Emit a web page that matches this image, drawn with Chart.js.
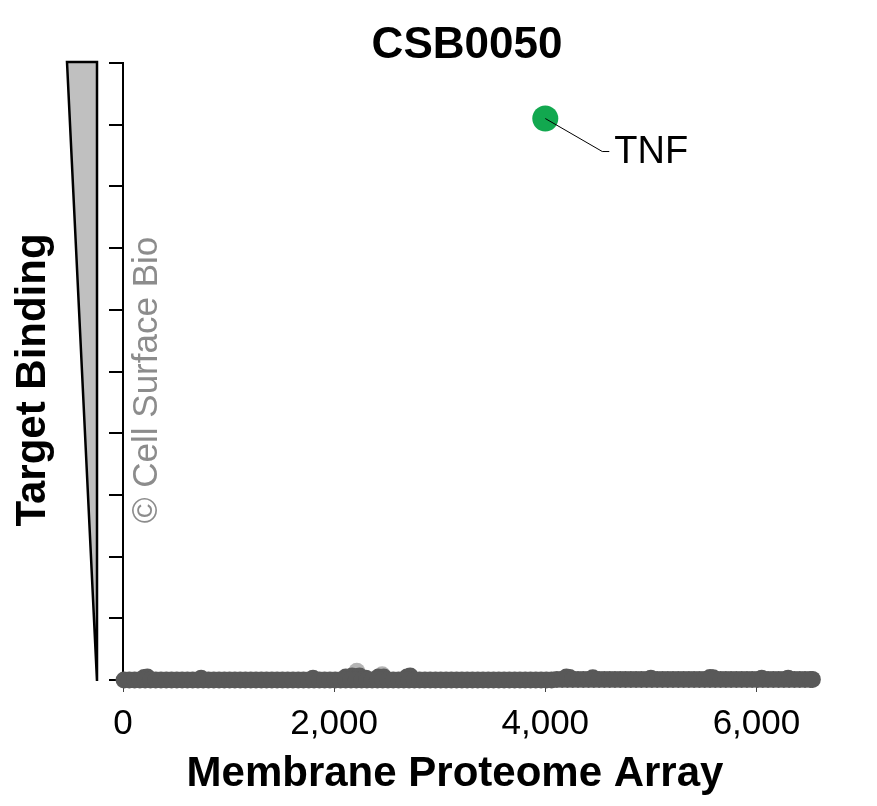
<!DOCTYPE html>
<html><head><meta charset="utf-8">
<script src="https://cdn.jsdelivr.net/npm/chart.js@4.4.0/dist/chart.umd.min.js"></script>
<style>html,body{margin:0;padding:0;background:#fff;}canvas{display:block;}</style>
</head><body>
<canvas id="c" width="877" height="806"></canvas>
<script>
const chartTitle = 'CSB0050';
const xAxisTitle = 'Membrane Proteome Array';
const yAxisTitle = 'Target Binding';
const watermark = '\u00A9 Cell Surface Bio';
const xTicks = [0, 2000, 4000, 6000];
const yTicks = [0, 1, 2, 3, 4, 5, 6, 7, 8, 9, 10];

// Membrane proteome array background (non-binders near baseline)
const proteinX = [10,60,110,160,210,260,310,360,410,460,
  510,560,610,660,710,760,810,860,910,960,
  1010,1060,1110,1160,1210,1260,1310,1360,1410,1460,
  1510,1560,1610,1660,1710,1760,1810,1860,1910,1960,
  2010,2060,2110,2160,2210,2260,2310,2360,2410,2460,
  2510,2560,2610,2660,2710,2760,2810,2860,2910,2960,
  3010,3060,3110,3160,3210,3260,3310,3360,3410,3460,
  3510,3560,3610,3660,3710,3760,3810,3860,3910,3960,
  4010,4060,4110,4160,4210,4260,4310,4360,4410,4460,
  4510,4560,4610,4660,4710,4760,4810,4860,4910,4960,
  5010,5060,5110,5160,5210,5260,5310,5360,5410,5460,
  5510,5560,5610,5660,5710,5760,5810,5860,5910,5960,
  6010,6060,6110,6160,6210,6260,6310,6360,6410,6460,6510,6530];
const proteinY = [0,0,0,0,0,0,0,0,0,0,
  0,0,0,0,0,0,0,0,0,0,
  0,0,0,0,0,0,0,0,0,0,
  0,0,0,0,0,0,0,0,0,0,
  0,0,0,0,0,0,0,0,0,0,
  0,0,0,0,0,0,0,0,0,0,
  0,0,0,0,0,0,0,0,0,0,
  0,0,0,0,0,0,0,0,0,0,
  0,0,0.01,0.01,0.01,0.01,0.01,0.01,0.01,0.01,
  0.01,0.01,0.01,0.01,0.01,0.01,0.01,0.01,0.01,0.01,
  0.01,0.01,0.01,0.01,0.01,0.01,0.01,0.01,0.01,0.01,
  0.01,0.01,0.01,0.01,0.01,0.01,0.01,0.01,0.01,0.01,
  0.01,0.01,0.01,0.01,0.01,0.01,0.01,0.01,0.01,0.01,0.01,0.01];
// Slightly raised proteins
const raisedX = [200, 230, 740, 1800, 2110, 2170, 2240, 2300, 2420, 2470,
  2690, 2720, 4200, 4230, 4450, 5000, 5560, 5590, 6050, 6300];
const raisedY = [0.04, 0.05, 0.03, 0.03, 0.05, 0.065, 0.065, 0.03, 0.05, 0.05,
  0.05, 0.065, 0.05, 0.04, 0.035, 0.03, 0.04, 0.035, 0.03, 0.03];
const faintX = [2215, 2455];
const faintY = [0.14, 0.085];

// Hit
const hitLabels = ['TNF'];
const hitX = [4000];
const hitY = [9.1];

const FONT = "'Liberation Sans', Arial, Helvetica, sans-serif";
const TEXT_MID_Y = 380;

const decor = {
  id: 'decor',
  beforeDatasetsDraw(chart) {
    const ctx = chart.ctx, y = chart.scales.y;
    const top = y.getPixelForValue(yTicks[yTicks.length - 1]);
    const bot = y.getPixelForValue(yTicks[0]);
    ctx.save();
    ctx.beginPath();
    ctx.moveTo(67, top - 1);
    ctx.lineTo(97, top - 1);
    ctx.lineTo(97, bot + 1);
    ctx.closePath();
    ctx.fillStyle = '#c0c0c0';
    ctx.fill();
    ctx.lineWidth = 2.5;
    ctx.strokeStyle = '#000';
    ctx.lineJoin = 'miter';
    ctx.stroke();
    ctx.translate(147, TEXT_MID_Y);
    ctx.rotate(-Math.PI / 2);
    ctx.fillStyle = '#8c8c8c';
    ctx.font = '35px ' + FONT;
    ctx.textAlign = 'center';
    ctx.textBaseline = 'middle';
    ctx.fillText(watermark, 0, 0);
    ctx.restore();
  },
  afterDatasetsDraw(chart) {
    const ctx = chart.ctx, xs = chart.scales.x, ys = chart.scales.y;
    ctx.save();
    for (let i = 0; i < hitLabels.length; i++) {
      const px = xs.getPixelForValue(hitX[i]);
      const py = ys.getPixelForValue(hitY[i]);
      ctx.beginPath();
      ctx.moveTo(px, py);
      ctx.lineTo(px + 57, py + 33);
      ctx.lineTo(px + 64, py + 33);
      ctx.strokeStyle = '#000';
      ctx.lineWidth = 1;
      ctx.stroke();
      ctx.fillStyle = '#000';
      ctx.font = '38px ' + FONT;
      ctx.textAlign = 'left';
      ctx.textBaseline = 'middle';
      ctx.fillText(hitLabels[i], px + 69, py + 34);
    }
    ctx.restore();
  },
  afterDraw(chart) {
    const ctx = chart.ctx;
    ctx.save();
    ctx.fillStyle = '#000';
    ctx.textAlign = 'center';
    ctx.textBaseline = 'middle';
    ctx.font = 'bold 44px ' + FONT;
    ctx.fillText(chartTitle, 467, 46);
    ctx.font = 'bold 42px ' + FONT;
    ctx.fillText(xAxisTitle, 455, 774);
    ctx.translate(33, TEXT_MID_Y);
    ctx.rotate(-Math.PI / 2);
    ctx.fillText(yAxisTitle, 0, 0);
    ctx.restore();
  }
};

new Chart(document.getElementById('c'), {
  type: 'scatter',
  data: {
    datasets: [
      {
        label: 'Proteins',
        data: proteinX.map((x, i) => ({x: x, y: proteinY[i]})),
        backgroundColor: '#595959',
        borderWidth: 0,
        pointRadius: 8.5,
        clip: false
      },
      {
        label: 'Raised',
        data: raisedX.map((x, i) => ({x: x, y: raisedY[i]})),
        backgroundColor: '#595959',
        borderWidth: 0,
        pointRadius: 8.5,
        clip: false
      },
      {
        label: 'Faint',
        data: faintX.map((x, i) => ({x: x, y: faintY[i]})),
        backgroundColor: 'rgba(89,89,89,0.45)',
        borderWidth: 0,
        pointRadius: 8.5,
        clip: false
      },
      {
        label: 'Hit',
        data: hitX.map((x, i) => ({x: x, y: hitY[i]})),
        backgroundColor: '#12a84f',
        borderWidth: 0,
        pointRadius: 13,
        clip: false
      }
    ]
  },
  plugins: [decor],
  options: {
    responsive: false,
    animation: false,
    events: [],
    layout: {padding: {top: 63, right: 15, bottom: 0, left: 0}},
    plugins: {legend: {display: false}, tooltip: {enabled: false}, title: {display: false}},
    scales: {
      x: {
        type: 'linear',
        min: 0,
        max: 7000,
        afterBuildTicks: (s) => { s.ticks = xTicks.map(v => ({value: v})); },
        afterFit: (s) => { s.height = 126; },
        border: {display: false},
        grid: {drawOnChartArea: false, drawTicks: true, tickLength: 12, color: '#444', lineWidth: 1},
        ticks: {
          padding: 11,
          color: '#000',
          font: {family: FONT, size: 35},
          maxRotation: 0,
          callback: (v) => v.toLocaleString('en-US')
        }
      },
      y: {
        type: 'linear',
        min: 0,
        max: 10,
        afterBuildTicks: (s) => { s.ticks = yTicks.map(v => ({value: v})); },
        afterFit: (s) => { s.width = 123; },
        border: {display: true, color: '#000', width: 2},
        grid: {drawOnChartArea: false, drawTicks: true, tickLength: 14, color: '#000', lineWidth: 2},
        ticks: {display: false}
      }
    }
  }
});
</script>
</body></html>
